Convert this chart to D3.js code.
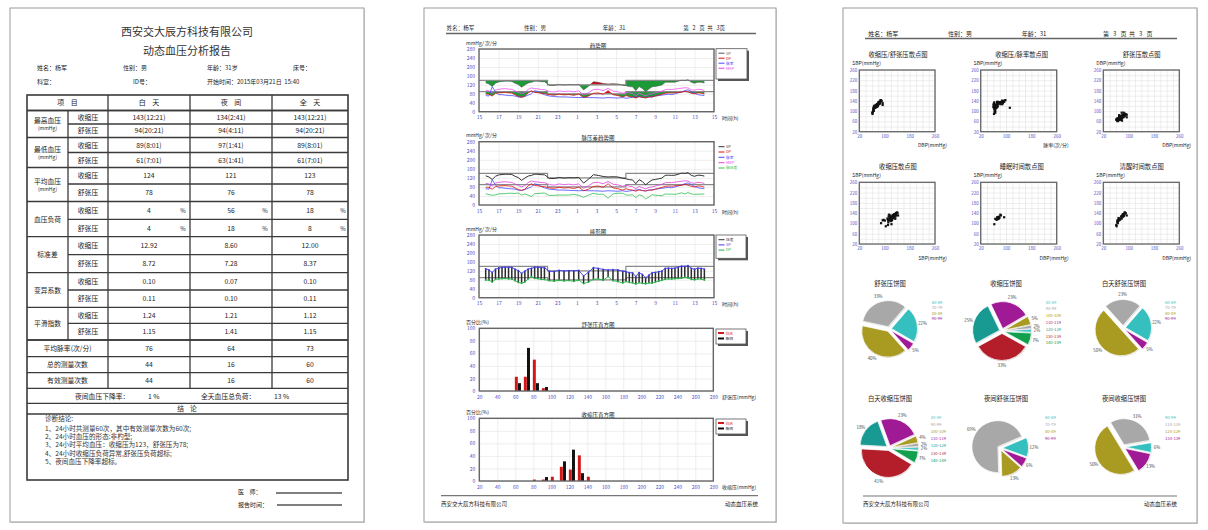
<!DOCTYPE html>
<html><head><meta charset="utf-8">
<script src="https://cdn.jsdelivr.net/npm/d3@7"></script>
<style>
html,body{margin:0;padding:0;background:#fff;}
svg{display:block;}
svg text{white-space:pre;}
</style></head>
<body>
<svg id="chart" width="1208" height="530"></svg>
<script>
// ---------------- DATA ----------------
const times = ["15:41","16:01","16:21","16:41","17:01","17:21","17:41","18:01","18:21","18:41","19:01","19:21","19:41","20:01","20:21","20:41","21:01","21:21","21:41",
"22:11","22:41","23:11","23:41","00:11","00:41","01:11","01:41","02:11","02:41","03:11","03:41","04:11","04:41","05:11","05:41",
"06:01","06:21","06:41","07:01","07:21","07:41","08:01","08:21","08:41","09:01","09:21","09:41","10:01","10:21","10:41","11:01","11:21","11:41","12:01","12:21","12:41","13:01","13:21","13:41","14:01"];
const sbp = [129,124,113,127,133,135,136,136,135,127,121,109,119,128,131,136,136,134,134,
118,117,122,119,121,120,122,97,114,134,131,126,124,125,124,118,
116,112,111,94,112,104,89,101,111,113,116,119,131,132,131,132,136,141,140,143,131,127,132,131,128];
const dbp = [79,78,70,82,84,85,86,84,83,76,68,65,70,84,94,86,85,82,81,
76,74,78,75,77,73,79,63,70,82,84,78,94,76,72,66,
72,68,66,61,67,64,62,66,65,70,74,78,82,84,83,85,86,87,91,88,82,80,84,83,79];
const hr = [72,70,112,88,76,76,74,72,72,70,66,64,68,74,80,94,90,82,76,
70,68,66,66,65,64,63,64,63,63,62,61,63,62,61,63,
60,62,64,66,68,64,62,66,68,70,72,74,76,78,76,80,84,88,94,98,90,82,76,74,72];
const mapv = [96,93,84,97,100,102,103,101,100,93,86,80,86,99,106,103,102,99,99,
90,88,93,90,92,89,93,74,85,99,100,94,104,92,89,83,
87,83,81,72,82,77,71,78,80,84,88,92,98,100,99,101,103,105,107,106,98,96,100,99,95];
const pp = [50,46,43,45,49,50,50,52,52,51,53,44,49,44,37,50,51,52,53,
42,43,44,44,44,47,43,34,44,52,47,48,30,49,52,52,
44,44,45,33,45,40,27,35,46,43,42,41,49,48,48,47,50,54,49,55,49,47,48,48,49];

const sbpLimit = [140, 120];   // day, night
const dbpLimit = [90, 80];
const nightSpan = [22, 30];
const hourTicks = [15,17,19,21,23,25,27,29,31,33,35,37,39];
const bpTicks = [0,40,80,120,160,200,240,280];

const dbpHistBins = [60,70,80,90];
const dbpHistDay = [22.7,22.7,50,4.5];
const dbpHistNight = [12.5,68.8,12.5,6.3];
const sbpHistBins = [80,90,100,110,120,130,140];
const sbpHistDay = [2.3,2.3,6.8,22.7,18.2,40.9,6.8];
const sbpHistNight = [0,6.3,0,31.3,50,12.5,0];
const histXTicks = [20,40,60,80,100,120,140,160,180,200,220,240,260,280];
const histYTicks = [0,20,40,60,80,100];

const dbpBins = ["60-69","70-79","80-89","90-99"];
const sbpBins = ["80-89","90-99","100-109","110-119","120-129","130-139","140-149"];
const nightSbpBins = ["90-99","110-119","120-129","130-139"];
const pieDbpAll = [22,33,40,5];
const pieSbpAll = [2,2,5,23,25,33,7];
const pieDbpDay = [22,23,50,5];
const pieSbpDay = [2,2,4,23,18,41,7];
const pieDbpNight = [12,69,13,6];
const pieSbpNight = [6,31,50,13];

const tableHeader = ["项    目","白    天","夜    间","全    天"];
const groupNames = ["最高血压","最低血压","平均血压","血压负荷","标准差","变异系数","平滑指数"];
const dayVals = ["143(12:21)","94(20:21)","89(8:01)","61(7:01)","124","78","4","4","12.92","8.72","0.10","0.11","1.24","1.15"];
const nightVals = ["134(2:41)","94(4:11)","97(1:41)","63(1:41)","121","76","56","18","8.60","7.28","0.07","0.10","1.21","1.41"];
const allVals = ["143(12:21)","94(20:21)","89(8:01)","61(7:01)","123","78","18","8","12.00","8.37","0.10","0.11","1.12","1.15"];
const singleLabels = ["平均脉率(次/分)","总的测量次数","有效测量次数"];
const singleDay = ["76","44","44"];
const singleNight = ["64","16","16"];
const singleAll = ["73","60","60"];
const diagLines = ["诊断结论:","1、24小时共测量60次，其中有效测量次数为60次;","2、24小时血压的形态:非杓型;","3、24小时平均血压：收缩压为123，舒张压为78;","4、24小时收缩压负荷异常,舒张压负荷超标;","5、夜间血压下降率超标。"];

// ---------------- HELPERS ----------------
const FONT = '"Noto Sans CJK SC","Noto Sans",sans-serif';
const AXC = "#5050c8";
const svg = d3.select("#chart").attr("font-family", FONT);
const defs = svg.append("defs");
function T(g,x,y,s,o={}){
  return g.append("text").attr("x",x).attr("y",y).attr("font-size",o.size||6)
    .attr("text-anchor",o.anchor||"start").attr("fill",o.color||"#222").text(s);
}
function gridStyle(s){ s.select(".domain").remove(); s.selectAll("line").attr("stroke","#dcdcdc").attr("stroke-width",0.5); }
function labelStyle(size){ return s=>{ s.attr("font-size",size).attr("font-family",FONT); s.select(".domain").remove(); s.selectAll("line").remove(); s.selectAll("text").attr("fill",AXC);} }
function pageFrame(x0,y0,x1,y1){
  svg.append("rect").attr("x",x0+1).attr("y",y0+1).attr("width",x1-x0).attr("height",y1-y0).attr("fill","#d8d8d8");
  svg.append("rect").attr("x",x0).attr("y",y0).attr("width",x1-x0).attr("height",y1-y0).attr("fill","#fff").attr("stroke","#9a9a9a").attr("stroke-width",1);
}
const tHours = times.map(s=>{const [h,m]=s.split(":").map(Number); let v=h+m/60; if(v<15) v+=24; return v;});
const isNight = t => t>=nightSpan[0] && t<nightSpan[1];

pageFrame(10,8,364,522);
pageFrame(424,8,776,522);
pageFrame(843,8,1197,523);

// ---------------- PAGE 1 ----------------
const p1 = svg.append("g");
T(p1,187,36,"西安交大辰方科技有限公司",{size:11,anchor:"middle",color:"#333"});
T(p1,187,55,"动态血压分析报告",{size:11,anchor:"middle",color:"#333"});
[["姓名：杨军",37],["性别：男",123],["年龄：31岁",207],["床号：",293]].forEach(d=>T(p1,d[1],69.5,d[0],{size:6}));
[["科室：",37],["ID号：",133],["开始时间：2015年03月21日  15:40",207]].forEach(d=>T(p1,d[1],83.5,d[0],{size:6}));

const X = [27,68,108,190,272,348];
const rowY = [110.5,124,137.5,152.5,167.5,184,201.5,219.3,236.7,254.7,272.7,290,307.3,323.3,340];
const singleY = [340,356.7,372.7,388.3];
const lineC = "#3a3a3a", lw = 1.3;
function hl(y,x0,x1){ p1.append("line").attr("x1",x0).attr("x2",x1).attr("y1",y).attr("y2",y).attr("stroke",lineC).attr("stroke-width",lw); }
function vl(x,y0,y1){ p1.append("line").attr("x1",x).attr("x2",x).attr("y1",y0).attr("y2",y1).attr("stroke",lineC).attr("stroke-width",lw); }
hl(110.5,X[0],X[5]);
rowY.forEach((y,i)=>{ if(i%2===0) hl(y,X[0],X[5]); else hl(y,X[1],X[5]); });
singleY.forEach(y=>hl(y,X[0],X[5]));
hl(403.3,X[0],X[5]); hl(414,X[0],X[5]);
vl(X[1],110.5,340);
[X[2],X[3],X[4]].forEach(x=>vl(x,95,388.3));
p1.append("rect").attr("x",X[0]).attr("y",95).attr("width",X[5]-X[0]).attr("height",385).attr("fill","none").attr("stroke",lineC).attr("stroke-width",1.6);
const colC = [67.5,149,231,310];
tableHeader.forEach((h,i)=>T(p1,colC[i],105,h,{size:7,anchor:"middle"}));
groupNames.forEach((n,k)=>{
  const cy=(rowY[2*k]+rowY[2*k+2])/2;
  if(k<3){ T(p1,47.5,cy-1,n,{size:6.8,anchor:"middle"}); T(p1,47.5,cy+6,"(mmHg)",{size:5,anchor:"middle"}); }
  else T(p1,47.5,cy+2.5,n,{size:6.8,anchor:"middle"});
});
for(let r=0;r<14;r++){
  const cy=(rowY[r]+rowY[r+1])/2+2.5;
  T(p1,88,cy,r%2===0?"收缩压":"舒张压",{size:6.8,anchor:"middle"});
  T(p1,149,cy,dayVals[r],{size:6.8,anchor:"middle"});
  T(p1,231,cy,nightVals[r],{size:6.8,anchor:"middle"});
  T(p1,310,cy,allVals[r],{size:6.8,anchor:"middle"});
  if(r===6||r===7){ [183,265,343].forEach(x=>T(p1,x,cy,"%",{size:6,anchor:"middle"})); }
}
for(let r=0;r<3;r++){
  const cy=(singleY[r]+singleY[r+1])/2+2.5;
  T(p1,67.5,cy,singleLabels[r],{size:6.8,anchor:"middle"});
  T(p1,149,cy,singleDay[r],{size:6.8,anchor:"middle"});
  T(p1,231,cy,singleNight[r],{size:6.8,anchor:"middle"});
  T(p1,310,cy,singleAll[r],{size:6.8,anchor:"middle"});
}
T(p1,75,398.5,"夜间血压下降率：",{size:6.8});
T(p1,148,398.5,"1 %",{size:6.8});
T(p1,201,398.5,"全天血压总负荷：",{size:6.8});
T(p1,274,398.5,"13 %",{size:6.8});
T(p1,187,411,"结    论",{size:6.8,anchor:"middle"});
const diagY=[420.5,430.5,439,447.3,455.6,464];
diagLines.forEach((s,i)=>T(p1,45,diagY[i],s,{size:6.6,color:"#333"}));
T(p1,238,494,"医    师：",{size:6});
T(p1,238,506.5,"报告时间：",{size:6});
p1.append("line").attr("x1",276).attr("x2",342).attr("y1",493).attr("y2",493).attr("stroke","#555").attr("stroke-width",1.5);
p1.append("line").attr("x1",277).attr("x2",342).attr("y1",505).attr("y2",505).attr("stroke","#555").attr("stroke-width",1.5);

// ---------------- PAGE 2 ----------------
const p2 = svg.append("g");
[["姓名：杨军",446.7],["性别：男",524],["年龄：31",602.7],["第   2   页  共   3页",683.3]].forEach(d=>T(p2,d[1],30,d[0],{size:5.5}));
p2.append("line").attr("x1",446).attr("x2",756).attr("y1",33.5).attr("y2",33.5).attr("stroke","#666").attr("stroke-width",1.5);

const PL=479, PR=714;
function timeFrame(top,bottom,title,unit){
  const g = p2.append("g");
  const x = d3.scaleLinear().domain([15,39]).range([PL,PR]);
  const y = d3.scaleLinear().domain([0,280]).range([bottom,top]);
  g.append("g").attr("transform",`translate(0,${bottom})`).call(d3.axisBottom(x).tickValues(hourTicks).tickSize(-(bottom-top)).tickFormat("")).call(gridStyle);
  g.append("g").attr("transform",`translate(${PL},0)`).call(d3.axisLeft(y).tickValues(bpTicks).tickSize(-(PR-PL)).tickFormat("")).call(gridStyle);
  g.append("g").attr("transform",`translate(${PL},0)`).call(d3.axisLeft(y).tickValues(bpTicks).tickSize(0).tickPadding(4)).call(labelStyle(5));
  g.append("g").attr("transform",`translate(0,${bottom})`).call(d3.axisBottom(x).tickValues(hourTicks).tickSize(0).tickPadding(4).tickFormat(d=>d%24)).call(labelStyle(5));
  T(g,598,top-1.5,title,{size:5.5,anchor:"middle"});
  T(g,466,top-4.5,unit,{size:5});
  T(g,722,bottom+8.5,"时间(h)",{size:5});
  return {g,x,y,top,bottom};
}
function frame(c){ c.g.append("rect").attr("x",PL).attr("y",c.top).attr("width",PR-PL).attr("height",c.bottom-c.top).attr("fill","none").attr("stroke","#666").attr("stroke-width",1.4); }
function stepPts(lim,a,b){ return [[a,lim[0]],[nightSpan[0],lim[0]],[nightSpan[0],lim[1]],[nightSpan[1],lim[1]],[nightSpan[1],lim[0]],[b,lim[0]]]; }
function limitLines(c,lim){
  const ln = d3.line().x(d=>c.x(d[0])).y(d=>c.y(d[1]));
  c.g.append("path").attr("d",ln(stepPts(lim,15,39))).attr("fill","none").attr("stroke","#8a8a8a").attr("stroke-width",1.2);
}
function seriesLine(c,vals,color,w){
  const ln = d3.line().x((d,i)=>c.x(tHours[i])).y(d=>c.y(d));
  c.g.append("path").attr("d",ln(vals)).attr("fill","none").attr("stroke",color).attr("stroke-width",w||0.8);
}
let clipN=0;
function limitFill(c,vals,lim){
  const ln = d3.line().x(d=>c.x(d[0])).y(d=>c.y(d[1]));
  const pts = tHours.map((t,i)=>[t,vals[i]]).concat(stepPts(lim,tHours[0],tHours[tHours.length-1]).reverse());
  const above = [[15,280],[39,280]].concat(stepPts(lim,15,39).reverse());
  const below = [[15,0],[39,0]].concat(stepPts(lim,15,39).reverse());
  const ida="ca"+(clipN), idb="cb"+(clipN++);
  defs.append("clipPath").attr("id",ida).append("path").attr("d",ln(above)+"Z");
  defs.append("clipPath").attr("id",idb).append("path").attr("d",ln(below)+"Z");
  c.g.append("path").attr("d",ln(pts)+"Z").attr("fill-rule","evenodd").attr("fill","#c8101e").attr("clip-path",`url(#${ida})`);
  c.g.append("path").attr("d",ln(pts)+"Z").attr("fill-rule","evenodd").attr("fill","#1c9a38").attr("clip-path",`url(#${idb})`);
}
function legendBox(g,x,y,w,h,items,box){
  if(box){
    g.append("rect").attr("x",x+2).attr("y",y+2).attr("width",w).attr("height",h).attr("fill","#555");
    g.append("rect").attr("x",x).attr("y",y).attr("width",w).attr("height",h).attr("fill","#fff").attr("stroke","#555").attr("stroke-width",0.8);
  }
  items.forEach(it=>{
    g.append("line").attr("x1",x+2.5).attr("x2",x+8.5).attr("y1",it[2]-1.3).attr("y2",it[2]-1.3).attr("stroke",it[1]).attr("stroke-width",it[3]||1);
    T(g,x+10,it[2],it[0],{size:3.8,color:it[1]});
  });
}

// Chart 1 趋势图
const c1 = timeFrame(49,111.7,"趋势图","mmHg/ 次/分");
limitFill(c1,sbp,sbpLimit);
limitFill(c1,dbp,dbpLimit);
limitLines(c1,sbpLimit); limitLines(c1,dbpLimit);
seriesLine(c1,mapv,"#f050f0",0.8);
seriesLine(c1,hr,"#4848ff",0.8);
seriesLine(c1,dbp,"#e01010",0.8);
seriesLine(c1,sbp,"#444",0.5);
frame(c1);
legendBox(p2,716,48.7,31,30.3,[["SP","#555",54.5],["DP","#e01010",59.5],["脉率","#4848ff",64.5],["MAP","#e040e0",69.5]],true);

// Chart 2 脉压差趋势图
const c2 = timeFrame(141.7,205,"脉压差趋势图","mmHg/ 次/分");
limitLines(c2,sbpLimit); limitLines(c2,dbpLimit);
seriesLine(c2,pp,"#30c050",0.8);
seriesLine(c2,hr,"#4848ff",0.8);
seriesLine(c2,mapv,"#e040e0",0.8);
seriesLine(c2,dbp,"#e01010",0.8);
seriesLine(c2,sbp,"#333",1);
frame(c2);
legendBox(p2,716,142,30,30,[["SP","#333",148],["DP","#e01010",153.3],["脉率","#4848ff",158.6],["MAP","#e040e0",164],["脉压差","#30c050",169.3]],false);

// Chart 3 棒形图
const c3 = timeFrame(235,297.7,"棒形图","mmHg/ 次/分");
limitLines(c3,sbpLimit); limitLines(c3,dbpLimit);
c3.g.selectAll("line.bar").data(sbp).join("line").attr("x1",(d,i)=>c3.x(tHours[i])).attr("x2",(d,i)=>c3.x(tHours[i]))
  .attr("y1",(d,i)=>c3.y(dbp[i])).attr("y2",d=>c3.y(d)).attr("stroke","#2a2a2a").attr("stroke-width",1.5);
seriesLine(c3,sbp,"#3c3ce0",0.9);
seriesLine(c3,dbp,"#28b048",0.9);
c3.g.selectAll("circle.s").data(sbp).join("circle").attr("cx",(d,i)=>c3.x(tHours[i])).attr("cy",d=>c3.y(d)).attr("r",0.9).attr("fill","#3c3ce0");
c3.g.selectAll("circle.d").data(dbp).join("circle").attr("cx",(d,i)=>c3.x(tHours[i])).attr("cy",d=>c3.y(d)).attr("r",0.9).attr("fill","#28b048");
frame(c3);
legendBox(p2,716,235,30,23.3,[["压差","#333",241],["SP","#3c3ce0",246.2],["DP","#28b048",251.4]],true);

// Histograms
function hist(top,bottom,title,xlab,bins,dayPct,nightPct){
  const L=479.3,R=713.3;
  const g = p2.append("g");
  const x = d3.scaleLinear().domain([20,280]).range([L,R]);
  const y = d3.scaleLinear().domain([0,100]).range([bottom,top]);
  g.append("g").attr("transform",`translate(0,${bottom})`).call(d3.axisBottom(x).tickValues(histXTicks).tickSize(-(bottom-top)).tickFormat("")).call(gridStyle);
  g.append("g").attr("transform",`translate(${L},0)`).call(d3.axisLeft(y).tickValues(histYTicks).tickSize(-(R-L)).tickFormat("")).call(gridStyle);
  g.append("g").attr("transform",`translate(${L},0)`).call(d3.axisLeft(y).tickValues(histYTicks).tickSize(0).tickPadding(4)).call(labelStyle(5));
  g.append("g").attr("transform",`translate(0,${bottom})`).call(d3.axisBottom(x).tickValues(histXTicks).tickSize(0).tickPadding(4)).call(labelStyle(5));
  g.selectAll("rect.r").data(bins).join("rect").attr("x",b=>x(b-0.5)).attr("width",b=>x(b+2.8)-x(b-0.5))
    .attr("y",(b,i)=>y(dayPct[i])).attr("height",(b,i)=>y(0)-y(dayPct[i])).attr("fill","#d01818");
  g.selectAll("rect.k").data(bins).join("rect").attr("x",b=>x(b+3)).attr("width",b=>x(b+6.3)-x(b+3))
    .attr("y",(b,i)=>y(nightPct[i])).attr("height",(b,i)=>y(0)-y(nightPct[i])).attr("fill","#111");
  g.append("rect").attr("x",L).attr("y",top).attr("width",R-L).attr("height",bottom-top).attr("fill","none").attr("stroke","#666").attr("stroke-width",1.4);
  T(g,598,top-1.8,title,{size:5.5,anchor:"middle"});
  T(g,466,top-4.5,"百分比(%)",{size:5});
  T(g,722,bottom+8,xlab,{size:5});
  const ly=top+0.7;
  g.append("rect").attr("x",716+2).attr("y",ly+2).attr("width",30).attr("height",15).attr("fill","#555");
  g.append("rect").attr("x",716).attr("y",ly).attr("width",30).attr("height",15).attr("fill","#fff").attr("stroke","#555").attr("stroke-width",0.8);
  g.append("rect").attr("x",718).attr("y",ly+3).attr("width",6).attr("height",2).attr("fill","#d01818");
  g.append("rect").attr("x",718).attr("y",ly+8.5).attr("width",6).attr("height",2).attr("fill","#111");
  T(g,725.5,ly+5.6,"白天",{size:3.8,color:"#d01818"});
  T(g,725.5,ly+11.1,"夜间",{size:3.8,color:"#111"});
}
hist(328.3,391,"舒张压直方图","舒张压(mmHg)",dbpHistBins,dbpHistDay,dbpHistNight);
hist(418.3,481,"收缩压直方图","收缩压(mmHg)",sbpHistBins,sbpHistDay,sbpHistNight);

p2.append("line").attr("x1",441).attr("x2",758).attr("y1",495.7).attr("y2",495.7).attr("stroke","#777").attr("stroke-width",1.2);
T(p2,441,506,"西安交大辰方科技有限公司",{size:5.5});
T(p2,758,506,"动态血压系统",{size:5.5,anchor:"end"});

// ---------------- PAGE 3 ----------------
const p3 = svg.append("g");
[["姓名：杨军",868.3],["性别：男",948],["年龄：31",1021.7],["第   3   页  共   3   页",1103]].forEach(d=>T(p3,d[1],35.5,d[0],{size:6}));
p3.append("line").attr("x1",865).attr("x2",1177).attr("y1",38.5).attr("y2",38.5).attr("stroke","#666").attr("stroke-width",1.5);

const scYTicks=[20,60,100,140,180,220,260], scXTicks=[20,100,180,260];
function scatter(x0,y0,x1,y1,xs,ys,title,ylab,xlab,tx){
  const g=p3.append("g");
  const x=d3.scaleLinear().domain([20,260]).range([x0,x1]);
  const y=d3.scaleLinear().domain([20,260]).range([y1,y0]);
  const gv=d3.range(20,261,20);
  g.append("g").attr("transform",`translate(0,${y1})`).call(d3.axisBottom(x).tickValues(gv).tickSize(-(y1-y0)).tickFormat("")).call(gridStyle);
  g.append("g").attr("transform",`translate(${x0},0)`).call(d3.axisLeft(y).tickValues(gv).tickSize(-(x1-x0)).tickFormat("")).call(gridStyle);
  g.append("g").attr("transform",`translate(${x0},0)`).call(d3.axisLeft(y).tickValues(scYTicks).tickSize(0).tickPadding(2)).call(labelStyle(4.5));
  g.append("g").attr("transform",`translate(0,${y1})`).call(d3.axisBottom(x).tickValues(scXTicks).tickSize(0).tickPadding(3)).call(labelStyle(4.5));
  g.selectAll("rect.pt").data(xs).join("rect").attr("x",d=>x(d)-1.1).attr("y",(d,i)=>y(ys[i])-1.1).attr("width",2.2).attr("height",2.2).attr("fill","#111");
  g.append("rect").attr("x",x0).attr("y",y0).attr("width",x1-x0).attr("height",y1-y0).attr("fill","none").attr("stroke","#666").attr("stroke-width",1.3);
  T(g,tx,y0-13,title,{size:6.3,anchor:"middle"});
  T(g,x0-7,y0-5.5,ylab,{size:5});
  T(g,x1+12,y1+15.5,xlab,{size:5,anchor:"end"});
}
const idxAll=d3.range(sbp.length), idxN=idxAll.filter(i=>isNight(tHours[i])), idxD=idxAll.filter(i=>!isNight(tHours[i]));
const cols=[[859.3,935,898],[980.7,1056.7,1021.7],[1103.3,1179.3,1141.7]];
scatter(cols[0][0],70,cols[0][1],131.7,dbp,sbp,"收缩压/舒张压散点图","SBP(mmHg)","DBP(mmHg)",cols[0][2]);
scatter(cols[1][0],70,cols[1][1],131.7,hr,sbp,"收缩压/脉率散点图","SBP(mmHg)","脉率(次/分)",cols[1][2]);
scatter(cols[2][0],70,cols[2][1],131.7,dbp.slice(0,-1),dbp.slice(1),"舒张压散点图","DBP(mmHg)","DBP(mmHg)",cols[2][2]);
scatter(cols[0][0],182.3,cols[0][1],244,sbp.slice(0,-1),sbp.slice(1),"收缩压散点图","SBP(mmHg)","SBP(mmHg)",cols[0][2]);
scatter(cols[1][0],182.3,cols[1][1],244,idxN.map(i=>dbp[i]),idxN.map(i=>sbp[i]),"睡眠时间散点图","SBP(mmHg)","DBP(mmHg)",cols[1][2]);
scatter(cols[2][0],182.3,cols[2][1],244,idxD.map(i=>dbp[i]),idxD.map(i=>sbp[i]),"清醒时间散点图","SBP(mmHg)","DBP(mmHg)",cols[2][2]);

const colors4=["#36bfbf","#a8a8a8","#a99a22","#a01a96"];
const colors7=["#4cc8c8","#a8a8a8","#a99a22","#a01a96","#189a92","#b41e2a","#12a04e"];
function pieChart(cx,cy,r,title,tx,ty,labels,values,colors,startMath,lx,ly,step){
  const g=p3.append("g");
  const a0=(90-startMath)*Math.PI/180;
  const arcs=d3.pie().sort(null).startAngle(a0).endAngle(a0-2*Math.PI)(values);
  const arc=d3.arc().innerRadius(0).outerRadius(r);
  arcs.forEach((a,i)=>{
    const mid=(a.startAngle+a.endAngle)/2, sx=Math.sin(mid), sy=-Math.cos(mid);
    g.append("path").attr("d",arc(a)).attr("transform",`translate(${cx+sx*2.5+0.8},${cy+sy*2.5+0.8})`).attr("fill","#ccc").attr("opacity",0.6);
    g.append("path").attr("d",arc(a)).attr("transform",`translate(${cx+sx*2.5},${cy+sy*2.5})`).attr("fill",colors[i]).attr("stroke","#fff").attr("stroke-width",0.7);
    T(g,cx+sx*(r+8),cy+sy*(r+8)+1.5,values[i]+"%",{size:4.3,anchor:"middle",color:"#444"});
  });
  T(g,tx,ty,title,{size:6.3,anchor:"middle"});
  labels.forEach((l,i)=>T(g,lx,ly+i*step,l,{size:4.2,color:colors[i]}));
}
pieChart(889,329,26,"舒张压饼图",890,286,dbpBins,pieDbpAll,colors4,-30,931.7,303.5,5.5);
pieChart(1002,331,27,"收缩压饼图",1006,286,sbpBins,pieSbpAll,colors7,-3,1045.7,303.5,6.8);
pieChart(1123,328,26,"白天舒张压饼图",1124,286,dbpBins,pieDbpDay,colors4,-30,1165,303.5,5.5);
pieChart(889,448,27,"白天收缩压饼图",890,400.5,sbpBins,pieSbpDay,colors7,-5,930.7,418.5,7.2);
pieChart(1000,448,26,"夜间舒张压饼图",1006,400.5,dbpBins,pieDbpNight,colors4,-20,1045,418.5,7.2);
pieChart(1123,447,26,"夜间收缩压饼图",1124,400.5,nightSbpBins,pieSbpNight,colors4,-12,1165,418.5,7.2);

p3.append("line").attr("x1",863).attr("x2",1177).attr("y1",496).attr("y2",496).attr("stroke","#777").attr("stroke-width",1.2);
T(p3,863,505.5,"西安交大辰方科技有限公司",{size:5.5});
T(p3,1177,505.5,"动态血压系统",{size:5.5,anchor:"end"});
</script>
</body></html>
